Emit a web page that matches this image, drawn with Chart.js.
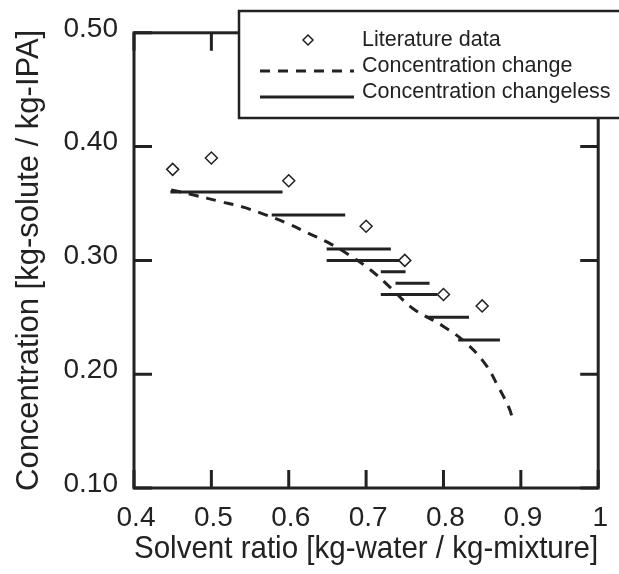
<!DOCTYPE html>
<html>
<head>
<meta charset="utf-8">
<script src="https://cdn.jsdelivr.net/npm/chart.js@4"></script>
<style>
  html, body { margin: 0; padding: 0; background: #fff; }
  #wrap { width: 619px; height: 574px; }
</style>
</head>
<body>
<div id="wrap"><canvas id="chart" width="619" height="574"></canvas></div>
<script>
// literature points
const litX = [0.45, 0.50, 0.60, 0.70, 0.75, 0.80, 0.85];
const litY = [0.38, 0.39, 0.37, 0.33, 0.30, 0.27, 0.26];

// dashed curve (concentration change)
const changeX = [0.448, 0.48, 0.51, 0.54, 0.57, 0.60, 0.625, 0.65, 0.675, 0.705, 0.73, 0.76, 0.80, 0.83, 0.855, 0.87, 0.885, 0.89];
const changeY = [0.362, 0.357, 0.352, 0.347, 0.340, 0.332, 0.324, 0.316, 0.306, 0.292, 0.277, 0.258, 0.242, 0.227, 0.208, 0.19, 0.17, 0.159];

// horizontal segments (concentration changeless)
const segStart = [0.447, 0.578, 0.649, 0.649, 0.719, 0.738, 0.719, 0.778, 0.819];
const segEnd   = [0.592, 0.673, 0.732, 0.744, 0.751, 0.782, 0.792, 0.833, 0.873];
const segY     = [0.36, 0.34, 0.31, 0.30, 0.29, 0.28, 0.27, 0.25, 0.23];

const xTickLabels = ['0.4', '0.5', '0.6', '0.7', '0.8', '0.9', '1'];
const yTickLabels = ['0.10', '0.20', '0.30', '0.40', '0.50'];
const legendLabels = ['Literature data', 'Concentration change', 'Concentration changeless'];

const ink = '#222';
const FONT = 'Liberation Sans, Arial, sans-serif';

const segData = [];
segStart.forEach((s, i) => {
  segData.push({x: s, y: segY[i]});
  segData.push({x: segEnd[i], y: segY[i]});
  segData.push({x: segEnd[i], y: null});
});

// frame with inward ticks on all four sides
const framePlugin = {
  id: 'frame',
  afterDatasetsDraw(chart) {
    const {ctx, chartArea: a, scales} = chart;
    const len = 18;
    ctx.save();
    ctx.strokeStyle = ink;
    ctx.lineWidth = 3;
    ctx.lineCap = 'butt';
    ctx.strokeRect(a.left, a.top, a.right - a.left, a.bottom - a.top);
    ctx.beginPath();
    scales.x.ticks.forEach(t => {
      const px = scales.x.getPixelForValue(t.value);
      ctx.moveTo(px, a.bottom); ctx.lineTo(px, a.bottom - len);
      ctx.moveTo(px, a.top); ctx.lineTo(px, a.top + len);
    });
    scales.y.ticks.forEach(t => {
      const py = scales.y.getPixelForValue(t.value);
      ctx.moveTo(a.left, py); ctx.lineTo(a.left + len, py);
      ctx.moveTo(a.right, py); ctx.lineTo(a.right - len, py);
    });
    ctx.stroke();
    ctx.restore();
  }
};

// boxed legend overlapping the top right corner
const legendBox = {
  id: 'legendBox',
  afterDraw(chart) {
    const ctx = chart.ctx;
    const ds = chart.data.datasets;
    ctx.save();
    ctx.fillStyle = '#fff';
    ctx.fillRect(239, 11, 400, 107);
    ctx.strokeStyle = ink;
    ctx.lineWidth = 2.5;
    ctx.strokeRect(239, 11, 400, 107);

    ctx.font = '21.5px ' + FONT;
    ctx.fillStyle = ink;
    ctx.textBaseline = 'middle';
    ctx.textAlign = 'left';
    const rows = [40, 66, 92];
    ds.forEach((d, i) => ctx.fillText(d.label, 362, rows[i]));

    // diamond
    ctx.lineWidth = 1.5;
    ctx.beginPath();
    ctx.moveTo(308, 35); ctx.lineTo(313, 40); ctx.lineTo(308, 45); ctx.lineTo(303, 40); ctx.closePath();
    ctx.stroke();
    // dashed
    ctx.lineWidth = 3;
    ctx.setLineDash([10, 8]);
    ctx.beginPath(); ctx.moveTo(260, 71); ctx.lineTo(354, 71); ctx.stroke();
    ctx.setLineDash([]);
    ctx.beginPath(); ctx.moveTo(260, 97); ctx.lineTo(354, 97); ctx.stroke();
    ctx.restore();
  }
};

new Chart(document.getElementById('chart'), {
  type: 'scatter',
  data: {
    datasets: [
      {
        label: legendLabels[0],
        data: litX.map((x, i) => ({x: x, y: litY[i]})),
        pointStyle: 'rectRot',
        pointRadius: 6,
        borderColor: ink,
        backgroundColor: '#fff',
        borderWidth: 1.5,
        showLine: false
      },
      {
        label: legendLabels[1],
        data: changeX.map((x, i) => ({x: x, y: changeY[i]})),
        showLine: true,
        borderColor: ink,
        borderWidth: 3,
        borderDash: [10, 8],
        tension: 0.4,
        pointRadius: 0
      },
      {
        label: legendLabels[2],
        data: segData,
        showLine: true,
        spanGaps: false,
        borderColor: ink,
        borderWidth: 3,
        pointRadius: 0
      }
    ]
  },
  options: {
    responsive: false,
    animation: false,
    layout: { padding: { top: 27, right: 17, left: 0, bottom: 0 } },
    plugins: {
      legend: { display: false },
      tooltip: { enabled: false }
    },
    scales: {
      x: {
        type: 'linear',
        min: 0.4, max: 1,
        afterFit: s => { s.height = 86; },
        afterBuildTicks: s => { s.ticks = xTickLabels.map(v => ({value: parseFloat(v)})); },
        grid: { display: false, drawTicks: false },
        border: { display: false },
        ticks: {
          padding: 13,
          labelOffset: 2,
          color: ink,
          font: { family: FONT, size: 28 },
          callback: (v, i) => xTickLabels[i]
        },
        title: {
          display: true,
          text: 'Solvent ratio [kg-water / kg-mixture]',
          color: ink,
          font: { family: FONT, size: 32 },
          padding: { top: 0, bottom: 6 }
        }
      },
      y: {
        type: 'linear',
        min: 0.1, max: 0.5,
        afterFit: s => { s.width = 134; },
        afterBuildTicks: s => { s.ticks = yTickLabels.map(v => ({value: parseFloat(v)})); },
        grid: { display: false, drawTicks: false },
        border: { display: false },
        ticks: {
          padding: 16,
          labelOffset: -4,
          color: ink,
          font: { family: FONT, size: 28 },
          callback: (v, i) => yTickLabels[i]
        },
        title: {
          display: true,
          text: 'Concentration [kg-solute / kg-IPA]',
          color: ink,
          font: { family: FONT, size: 31 },
          padding: { top: 11, bottom: 0 }
        }
      }
    }
  },
  plugins: [framePlugin, legendBox]
});
</script>
</body>
</html>
